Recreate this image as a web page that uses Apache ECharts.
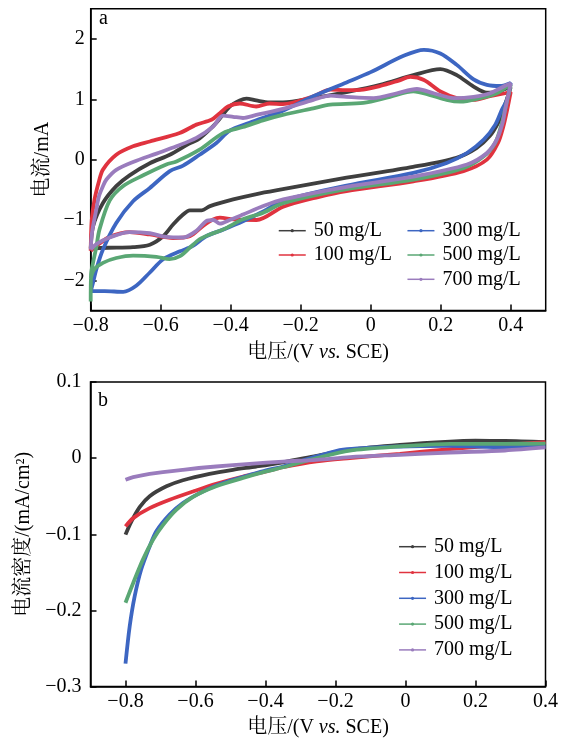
<!DOCTYPE html>
<html>
<head>
<meta charset="utf-8">
<script src="https://cdn.jsdelivr.net/npm/echarts@6/dist/echarts.min.js"></script>
<style>
html,body{margin:0;padding:0;background:#fff;}
#c{width:567px;height:744px;}
</style>
</head>
<body>
<div id="c"></div>
<script>
// ---------- Data ----------
const seriesNames = ['50 mg/L', '100 mg/L', '300 mg/L', '500 mg/L', '700 mg/L'];
const seriesColors = ['#3f3f3f', '#e0333f', '#3d66c2', '#5aa774', '#9a7cbd'];

// Panel a: cyclic voltammetry (potential V, current mA), forward then reverse scan
const cv50V = [-0.8,-0.793,-0.765,-0.727,-0.689,-0.631,-0.574,-0.52,-0.489,-0.441,-0.403,-0.374,-0.355,-0.327,-0.289,-0.251,-0.164,-0.069,0.027,0.122,0.199,0.246,0.294,0.332,0.36,0.384,0.4,
  0.379,0.364,0.34,0.302,0.245,0.121,-0.069,-0.251,-0.326,-0.393,-0.459,-0.483,-0.517,-0.536,-0.564,-0.593,-0.631,-0.679,-0.75,-0.8];
const cv50I = [-1.47,-1.10,-0.72,-0.44,-0.26,-0.06,0.08,0.26,0.35,0.61,0.88,0.98,1.01,0.98,0.95,0.95,1.02,1.12,1.24,1.40,1.50,1.40,1.21,1.11,1.12,1.17,1.2,
  0.83,0.61,0.39,0.19,0.03,-0.12,-0.30,-0.49,-0.57,-0.66,-0.77,-0.84,-0.84,-0.91,-1.07,-1.27,-1.41,-1.45,-1.46,-1.47];

const cv100V = [-0.8,-0.797,-0.789,-0.776,-0.765,-0.727,-0.679,-0.631,-0.546,-0.498,-0.455,-0.431,-0.408,-0.374,-0.327,-0.289,-0.251,-0.164,-0.116,-0.07,-0.021,0.027,0.08,0.113,0.152,0.199,0.246,0.294,0.341,0.384,0.4,
  0.39,0.379,0.364,0.332,0.265,0.122,-0.069,-0.15,-0.25,-0.326,-0.393,-0.431,-0.45,-0.479,-0.517,-0.565,-0.631,-0.689,-0.746,-0.784,-0.8];
const cv100I = [-1.51,-1.0,-0.66,-0.35,-0.165,0.08,0.22,0.30,0.44,0.58,0.66,0.77,0.88,0.93,0.88,0.93,0.92,1.05,1.16,1.15,1.16,1.22,1.31,1.37,1.32,1.13,1.02,0.99,1.05,1.1,1.12,
  0.83,0.55,0.28,0.0,-0.19,-0.36,-0.52,-0.62,-0.78,-1.0,-0.99,-0.96,-0.99,-1.10,-1.27,-1.30,-1.24,-1.2,-1.28,-1.43,-1.51];

const cv300V = [-0.8,-0.796,-0.784,-0.765,-0.727,-0.679,-0.631,-0.574,-0.536,-0.489,-0.441,-0.403,-0.346,-0.289,-0.251,-0.164,-0.069,0.0,0.094,0.152,0.199,0.246,0.294,0.332,0.37,0.4,
  0.39,0.375,0.356,0.323,0.275,0.217,0.122,-0.069,-0.25,-0.307,-0.365,-0.422,-0.47,-0.508,-0.545,-0.593,-0.631,-0.67,-0.707,-0.76,-0.8];
const cv300I = [-2.18,-2.1,-1.82,-1.49,-1.05,-0.69,-0.47,-0.19,-0.1,0.08,0.275,0.48,0.61,0.73,0.81,1.05,1.28,1.45,1.72,1.82,1.76,1.57,1.33,1.24,1.22,1.27,
  1.0,0.83,0.58,0.33,0.11,-0.055,-0.22,-0.43,-0.68,-0.86,-1.02,-1.16,-1.27,-1.43,-1.52,-1.65,-1.87,-2.09,-2.19,-2.18,-2.18];

const cv500V = [-0.8,-0.799,-0.793,-0.784,-0.775,-0.746,-0.708,-0.65,-0.584,-0.555,-0.489,-0.422,-0.365,-0.308,-0.251,-0.164,-0.116,-0.021,0.055,0.122,0.17,0.217,0.256,0.313,0.36,0.39,0.4,
  0.384,0.375,0.356,0.323,0.265,0.122,-0.069,-0.25,-0.307,-0.365,-0.422,-0.46,-0.489,-0.517,-0.545,-0.575,-0.612,-0.679,-0.727,-0.765,-0.79,-0.8];
const cv500I = [-2.35,-1.9,-1.7,-1.45,-1.16,-0.68,-0.44,-0.26,-0.08,-0.03,0.165,0.44,0.54,0.65,0.74,0.85,0.91,0.94,1.04,1.13,1.07,0.99,0.96,1.02,1.1,1.21,1.24,
  0.83,0.61,0.28,0.055,-0.14,-0.33,-0.49,-0.72,-0.88,-0.99,-1.16,-1.24,-1.32,-1.46,-1.6,-1.65,-1.61,-1.59,-1.63,-1.71,-1.82,-1.98];

const cv700V = [-0.8,-0.796,-0.784,-0.776,-0.765,-0.755,-0.727,-0.679,-0.612,-0.555,-0.498,-0.45,-0.422,-0.393,-0.365,-0.327,-0.251,-0.164,-0.116,-0.069,0.008,0.075,0.132,0.18,0.237,0.294,0.341,0.39,0.4,
  0.384,0.377,0.36,0.332,0.275,0.122,-0.069,-0.25,-0.307,-0.365,-0.403,-0.431,-0.45,-0.47,-0.498,-0.536,-0.584,-0.631,-0.689,-0.746,-0.784,-0.8];
const cv700I = [-1.49,-1.2,-0.83,-0.6,-0.44,-0.33,-0.17,-0.04,0.1,0.22,0.36,0.55,0.73,0.71,0.69,0.74,0.84,0.99,1.06,1.04,1.02,1.1,1.17,1.1,1.02,1.04,1.1,1.24,1.26,
  0.83,0.61,0.33,0.11,-0.08,-0.28,-0.45,-0.66,-0.77,-0.91,-1.0,-1.06,-1.0,-1.02,-1.18,-1.29,-1.28,-1.22,-1.2,-1.29,-1.4,-1.49];

// Panel b: polarization (potential V, current density mA/cm2)
const lsv50V = [-0.8,-0.783,-0.759,-0.731,-0.683,-0.636,-0.56,-0.493,-0.426,-0.35,-0.254,-0.159,-0.016,0.127,0.2,0.284,0.4];
const lsv50J = [-0.1005,-0.083,-0.064,-0.050,-0.037,-0.029,-0.0206,-0.0153,-0.011,-0.0055,0.003,0.011,0.0175,0.0218,0.0228,0.0227,0.021];
const lsv100V = [-0.8,-0.778,-0.731,-0.674,-0.607,-0.541,-0.464,-0.398,-0.35,-0.254,-0.159,-0.016,0.127,0.284,0.4];
const lsv100J = [-0.0897,-0.0788,-0.0657,-0.0547,-0.0438,-0.0337,-0.0241,-0.0175,-0.012,-0.0044,0.0,0.0057,0.0118,0.0175,0.021];
const lsv300V = [-0.8,-0.788,-0.774,-0.755,-0.731,-0.712,-0.674,-0.636,-0.588,-0.541,-0.493,-0.445,-0.398,-0.35,-0.254,-0.178,-0.016,0.127,0.284,0.4];
const lsv300J = [-0.27,-0.221,-0.182,-0.146,-0.116,-0.096,-0.074,-0.059,-0.046,-0.036,-0.0285,-0.022,-0.016,-0.011,0.0022,0.011,0.0153,0.0162,0.0144,0.016];
const lsv500V = [-0.8,-0.778,-0.75,-0.721,-0.693,-0.655,-0.607,-0.541,-0.464,-0.398,-0.35,-0.254,-0.159,-0.016,0.127,0.284,0.4];
const lsv500J = [-0.19,-0.164,-0.133,-0.107,-0.088,-0.068,-0.051,-0.037,-0.026,-0.0175,-0.012,0.0,0.01,0.0153,0.0188,0.0188,0.019];
const lsv700V = [-0.8,-0.778,-0.731,-0.636,-0.541,-0.445,-0.35,-0.254,-0.159,-0.016,0.127,0.284,0.4];
const lsv700J = [-0.0285,-0.025,-0.0206,-0.0153,-0.011,-0.0075,-0.0045,-0.0022,0.0013,0.0044,0.0074,0.01,0.014];

// Tick labels
const ticksAX = [-0.8,-0.6,-0.4,-0.2,0,0.2,0.4];
const ticksAY = [-2,-1,0,1,2];
const ticksBX = [-0.8,-0.6,-0.4,-0.2,0,0.2,0.4];
const ticksBY = [-0.3,-0.2,-0.1,0,0.1];

// ---------- Build ----------
const zip = (a, b) => a.map((v, i) => [v, b[i]]);
const cvData = [zip(cv50V, cv50I), zip(cv100V, cv100I), zip(cv300V, cv300I), zip(cv500V, cv500I), zip(cv700V, cv700I)];
const lsvData = [zip(lsv50V, lsv50J), zip(lsv100V, lsv100J), zip(lsv300V, lsv300J), zip(lsv500V, lsv500J), zip(lsv700V, lsv700J)];

const FONT = "'Times New Roman','Liberation Serif','Noto Serif CJK SC','Noto Sans CJK SC',serif";
const fmt = v => {
  const r = Math.round(v * 1000) / 1000;
  if (r === 0) return '0';
  return (r < 0 ? '\u2212' : '') + String(Math.abs(r));
};

function xAxis(gridIndex, min, max, ticks, nameGap) {
  return {
    type: 'value', gridIndex, min, max,
    name: '电压/(V {i|vs.} SCE)', nameLocation: 'middle', nameGap,
    nameTextStyle: { fontFamily: FONT, fontSize: 20, color: '#000', rich: { i: { fontStyle: 'italic', fontFamily: FONT, fontSize: 20, color: '#000' } } },
    axisLine: { show: true, onZero: false, lineStyle: { color: '#000', width: 1.5 } },
    axisTick: { show: true, inside: true, length: 6, customValues: ticks, lineStyle: { color: '#000', width: 1.5 } },
    axisLabel: { customValues: ticks, formatter: fmt, fontFamily: FONT, fontSize: 20, color: '#000', margin: 5 },
    splitLine: { show: false }
  };
}
function yAxis(gridIndex, min, max, ticks, name, nameGap, margin) {
  return {
    type: 'value', gridIndex, min, max,
    name, nameLocation: 'middle', nameGap,
    nameTextStyle: { fontFamily: FONT, fontSize: 20, color: '#000' },
    axisLine: { show: true, onZero: false, lineStyle: { color: '#000', width: 1.5 } },
    axisTick: { show: true, inside: true, length: 6, customValues: ticks, lineStyle: { color: '#000', width: 1.5 } },
    axisLabel: { customValues: ticks, formatter: fmt, fontFamily: FONT, fontSize: 20, color: '#000', margin },
    splitLine: { show: false }
  };
}

const series = [];
seriesNames.forEach((n, i) => {
  series.push({
    name: n, type: 'line', xAxisIndex: 0, yAxisIndex: 0, data: cvData[i],
    smooth: 0.3, symbol: 'circle', symbolSize: 4, showSymbol: false,
    lineStyle: { color: seriesColors[i], width: 3.8 }, itemStyle: { color: seriesColors[i] }, z: 2 + i
  });
});
seriesNames.forEach((n, i) => {
  series.push({
    name: n, type: 'line', xAxisIndex: 1, yAxisIndex: 1, data: lsvData[i],
    smooth: 0.3, symbol: 'circle', symbolSize: 4, showSymbol: false,
    lineStyle: { color: seriesColors[i], width: 3.8 }, itemStyle: { color: seriesColors[i] }, z: 2 + i
  });
});

const legendBase = {
  orient: 'vertical', itemWidth: 27, itemHeight: 4,
  textStyle: { fontFamily: FONT, fontSize: 20, color: '#000', padding: [0, 0, 0, 3] },
  lineStyle: { width: 1.5 }, selectedMode: false, padding: 0
};

const chart = echarts.init(document.getElementById('c'), null, { renderer: 'canvas' });
chart.setOption({
  animation: false,
  backgroundColor: '#fff',
  grid: [
    { left: 90.7, top: 8.75, width: 455, height: 301.75, show: true, borderColor: '#000', borderWidth: 1.5, containLabel: false },
    { left: 90.5, top: 382, width: 455, height: 304.5, show: true, borderColor: '#000', borderWidth: 1.5, containLabel: false }
  ],
  xAxis: [ xAxis(0, -0.8, 0.5, ticksAX, 32), xAxis(1, -0.9, 0.4, ticksBX, 31) ],
  yAxis: [
    yAxis(0, -2.5, 2.5, ticksAY, '电流/mA', 35, 6),
    yAxis(1, -0.3, 0.1, ticksBY, '电流密度/(mA/cm²)', 57, 9)
  ],
  legend: [
    Object.assign({}, legendBase, { data: seriesNames.slice(0, 2), left: 278, top: 220.7, itemGap: 4.3 }),
    Object.assign({}, legendBase, { data: seriesNames.slice(2), left: 406.7, top: 220.7, itemGap: 4.3 }),
    Object.assign({}, legendBase, { data: seriesNames, left: 398.3, top: 536.7, itemGap: 5.8 })
  ],
  graphic: [
    { type: 'text', left: 99, top: 9, style: { text: 'a', font: '20px ' + FONT, fill: '#000' } },
    { type: 'text', left: 98, top: 391, style: { text: 'b', font: '20px ' + FONT, fill: '#000' } }
  ],
  series
});
</script>
</body>
</html>
